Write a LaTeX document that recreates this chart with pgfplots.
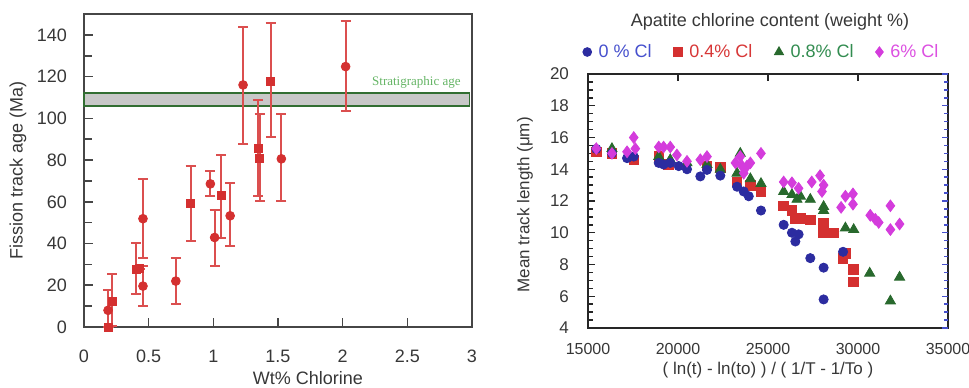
\documentclass[border=0pt]{standalone}
\usepackage{pgfplots}
\pgfplotsset{compat=1.18}
\usepackage{fontspec}
\setmainfont{Liberation Sans}
\newfontfamily\seriffont{Liberation Serif}
\definecolor{ptred}{RGB}{212,48,48}
\definecolor{ptblue}{RGB}{44,44,160}
\definecolor{ptgreen}{RGB}{40,105,45}
\definecolor{ptmag}{RGB}{212,60,220}
\definecolor{lgblue}{RGB}{70,80,205}
\definecolor{lggreen}{RGB}{50,140,80}
\definecolor{lgred}{RGB}{215,55,55}
\definecolor{lgmag}{RGB}{220,80,225}
\definecolor{axgray}{RGB}{70,70,70}
\definecolor{txtgray}{RGB}{55,55,55}
\definecolor{bandgreen}{RGB}{50,110,50}
\definecolor{strat}{RGB}{100,180,100}

\pgfplotstableread{
x y ep em
0.186 8.0 9.7 8.0
0.456 19.6 9.8 9.6
0.456 51.9 18.8 18.6
0.71 22.0 11.3 11.2
0.977 68.6 6.1 5.6
1.01 42.9 13.0 13.5
1.13 53.3 15.9 14.7
1.23 116.0 28.0 28.1
1.526 80.6 21.4 20.0
2.023 124.8 21.7 21.2
}\agecirc

\pgfplotstableread{
x y ep em
0.19 0.0 0 0
0.22 12.4 13.0 12.0
0.405 27.6 12.6 11.6
0.43 28.0 0 0
0.825 59.0 18.0 17.7
1.06 63.0 19.4 20.4
1.345 85.5 23.5 22.5
1.358 80.6 21.4 20.0
1.443 117.7 28.0 26.5
}\agesq

\pgfplotstableread{
x y
15460 15.28
16330 15.0
17170 14.7
17540 14.8
18930 14.4
19200 14.3
19570 14.4
20040 14.2
20500 14.0
21240 13.55
21610 13.96
22350 13.6
23280 12.9
23650 12.6
23930 12.3
24610 11.4
25870 10.5
26330 10.0
26520 9.45
26700 9.9
27350 8.4
28090 7.8
28090 5.8
29170 8.8
}\clzero

\pgfplotstableread{
x y
15460 15.1
16330 15.0
17540 14.6
18930 14.8
19480 14.3
21610 14.2
22350 14.1
23280 13.2
24020 13.0
24610 12.6
25870 11.7
26330 11.4
26520 10.9
26800 10.9
27350 10.8
28090 10.6
28090 10.0
28650 10.0
29170 8.4
29300 8.7
29760 7.7
29760 6.9
}\clfour

\pgfplotstableread{
x y
16330 15.3
18930 14.8
19570 14.6
20500 14.4
21610 14.3
22350 14.0
23280 13.75
23460 15.0
24020 13.4
24610 13.1
25870 12.6
26330 12.4
26610 12.1
26800 12.3
27350 12.1
28090 11.65
28090 11.4
29300 10.3
29760 10.2
30650 7.45
31800 5.7
32310 7.2
}\cleight

\pgfplotstableread{
x y
15460 15.3
16330 15.0
17170 15.1
17540 16.0
17630 15.3
18930 15.4
19200 15.4
19570 15.4
19940 14.9
20500 14.5
21240 14.6
21610 14.8
23190 14.4
23460 14.8
23560 14.2
23830 14.2
24020 14.4
23650 13.75
24610 15.0
25870 13.2
26330 13.15
26700 12.8
27430 13.2
27890 13.6
28090 13.0
28000 12.6
29060 11.6
29300 12.3
29720 12.45
29720 11.8
30680 11.1
30960 10.85
31150 10.65
31800 11.7
31800 10.2
32310 10.55
}\clsix

\begin{document}
\begin{tikzpicture}
\useasboundingbox (0,0) rectangle (484.5pt,193.5pt);
% ---------------- left panel ----------------
\begin{axis}[
  at={(42pt,30pt)}, anchor=south west, scale only axis,
  width=194pt, height=156.5pt,
  xmin=0, xmax=3, ymin=0, ymax=150,
  xtick={0,0.5,...,3}, ytick={0,20,...,140},
  minor y tick num=1,
  xtick pos=bottom, ytick pos=left,
  tick align=inside,
  major tick length=4.5pt, minor tick length=4pt,
  axis line style={axgray, line width=0.8pt},
  every tick/.style={axgray, line width=0.8pt},
  /pgf/number format/assume math mode=true,
  /pgf/number format/fixed,
  tick label style={font=\fontsize{9}{10}\selectfont, text=txtgray},
  xticklabel style={yshift=-8pt},
  yticklabel style={xshift=-5pt},
  clip=false,
  xlabel={Wt\% Chlorine},
  ylabel={Fission track age (Ma)},
  label style={font=\fontsize{9}{10}\selectfont, text=txtgray},
  xlabel style={at={(axis description cs:0.577,-0.163)}, anchor=center},
  ylabel style={at={(axis description cs:-0.17,0.5)}, anchor=center},
]
\addplot[fill={rgb,255:red,200;green,200;blue,200}, draw=bandgreen, line width=0.8pt]
  coordinates {(0,106) (2.98,106) (2.98,112) (0,112)} -- cycle;
\node[font=\seriffont\fontsize{6.5}{7}\selectfont, text=strat] at (axis cs:2.57,117) {Stratigraphic age};
\addplot[only marks, mark=*, mark size=2.2pt, color=ptred,
  error bars/.cd, y dir=both, y explicit,
  error bar style={line width=1pt, ptred!85},
  error mark options={rotate=90, mark size=2.5pt, line width=1pt, ptred!85}]
  table[x=x, y=y, y error plus=ep, y error minus=em] {\agecirc};
\addplot[only marks, mark=square*, mark size=2pt, color=ptred,
  error bars/.cd, y dir=both, y explicit,
  error bar style={line width=1pt, ptred!85},
  error mark options={rotate=90, mark size=2.5pt, line width=1pt, ptred!85}]
  table[x=x, y=y, y error plus=ep, y error minus=em] {\agesq};
\end{axis}
% ---------------- right panel ----------------
\begin{axis}[
  at={(294pt,29.5pt)}, anchor=south west, scale only axis,
  width=180pt, height=127pt,
  xmin=15000, xmax=35000, ymin=4, ymax=20,
  xtick={15000,20000,...,35000}, ytick={4,6,...,20},
  scaled x ticks=false,
  minor y tick num=3,
  xtick pos=upper, xticklabel pos=lower, ytick pos=left,
  tick align=inside,
  major tick length=3.5pt, minor tick length=2.5pt,
  axis line style={black!85, line width=0.8pt},
  every tick/.style={black!85, line width=0.7pt},
  /pgf/number format/assume math mode=true,
  /pgf/number format/1000 sep={},
  tick label style={font=\fontsize{8.5}{9}\selectfont, text=txtgray},
  xticklabel style={yshift=-4pt, font=\fontsize{8}{9}\selectfont},
  yticklabel style={xshift=-6pt},
  clip=false,
  xlabel={( ln(t) - ln(to) ) / ( 1/T - 1/To )},
  ylabel={Mean track length (μm)},
  label style={font=\fontsize{8.5}{9}\selectfont, text=txtgray},
  xlabel style={at={(axis description cs:0.5,-0.165)}, anchor=center},
  ylabel style={at={(axis description cs:-0.175,0.485)}, anchor=center},
  legend columns=4,
  legend style={at={(axis description cs:0.485,1)}, anchor=center, yshift=11pt,
    draw=none, fill=none, font=\fontsize{9}{10}\selectfont,
    /tikz/every odd column/.append style={column sep=1.5pt},
    /tikz/every even column/.append style={column sep=9pt}},
  legend cell align=left,
]
\addlegendimage{only marks, mark=*, mark size=2.2pt, color=ptblue}
\addlegendentry{\textcolor{lgblue}{0 \% Cl}}
\addlegendimage{only marks, mark=square*, mark size=2.2pt, color=ptred}
\addlegendentry{\textcolor{lgred}{0.4\% Cl}}
\addlegendimage{only marks, mark=triangle*, mark size=2.6pt, color=ptgreen}
\addlegendentry{\textcolor{lggreen}{0.8\% Cl}}
\addlegendimage{only marks, mark=diamond*, mark size=2.6pt, color=ptmag}
\addlegendentry{\textcolor{lgmag}{6\% Cl}}
\addplot[forget plot, only marks, mark=square*, mark size=2.4pt, color=ptred] table {\clfour};
\addplot[forget plot, only marks, mark=triangle*, mark size=2.9pt, color=ptgreen] table {\cleight};
\addplot[forget plot, only marks, mark=*, mark size=2.3pt, color=ptblue] table {\clzero};
\addplot[forget plot, only marks, mark=diamond*, mark size=2.9pt, color=ptmag] table {\clsix};
\end{axis}
\begin{axis}[
  at={(294pt,29.5pt)}, anchor=south west, scale only axis,
  width=180pt, height=127pt,
  xmin=15000, xmax=35000, ymin=4, ymax=20,
  axis x line=none, axis y line*=right,
  y axis line style={draw=none},
  ytick={4,6,...,20}, minor y tick num=3, yticklabels={},
  tick align=inside,
  major tick length=3pt, minor tick length=2pt,
  every tick/.style={lgblue, line width=0.7pt},
]
\addplot[draw=none, forget plot] coordinates {(15000,4)};
\end{axis}
\node[font=\fontsize{9}{10}\selectfont, text=txtgray] at (385pt,182.5pt) {Apatite chlorine content (weight \%)};
\end{tikzpicture}
\end{document}
